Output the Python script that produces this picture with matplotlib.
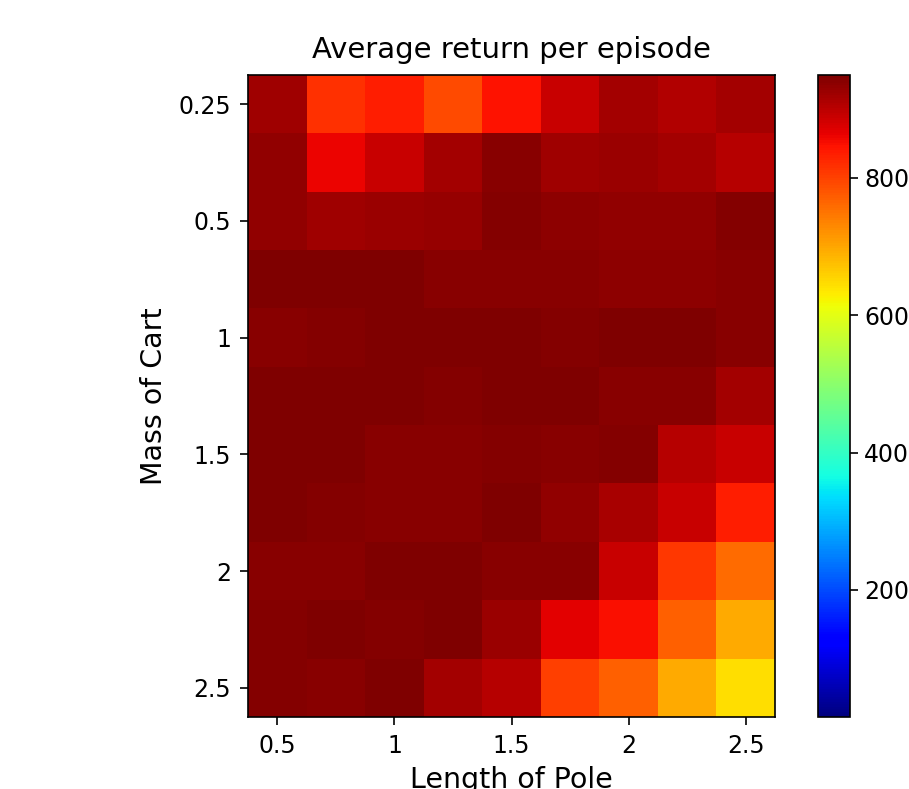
import numpy as np
import matplotlib
matplotlib.use("Agg")
import matplotlib.pyplot as plt

# lengths of pole (columns) and masses of cart (rows)
pole_lengths = [0.5, 0.75, 1.0, 1.25, 1.5, 1.75, 2.0, 2.25, 2.5]
cart_masses = [0.25, 0.375, 0.5, 0.75, 1.0, 1.25, 1.5, 1.75, 2.0, 2.25, 2.5]

x_tick_labels = ["0.5", "1", "1.5", "2", "2.5"]
y_tick_labels = ["0.25", "0.5", "1", "1.5", "2", "2.5"]

# average return per episode, one row per cart mass
row_025 = [922, 815, 834, 790, 846, 888, 919, 909, 920]
row_0375 = [933, 861, 888, 919, 940, 924, 927, 920, 905]
row_05 = [933, 921, 925, 930, 943, 938, 935, 935, 945]
row_075 = [947, 950, 950, 940, 940, 941, 938, 938, 941]
row_10 = [941, 945, 950, 950, 950, 943, 950, 950, 941]
row_125 = [950, 950, 950, 944, 948, 948, 941, 941, 919]
row_15 = [950, 950, 941, 941, 943, 941, 943, 905, 888]
row_175 = [950, 943, 940, 941, 950, 933, 917, 888, 834]
row_20 = [941, 941, 950, 950, 941, 941, 888, 810, 757]
row_225 = [945, 950, 943, 950, 927, 868, 850, 771, 697]
row_25 = [945, 941, 947, 919, 905, 803, 771, 697, 644]

returns = np.array([row_025, row_0375, row_05, row_075, row_10, row_125,
                    row_15, row_175, row_20, row_225, row_25])

fig = plt.figure(figsize=(9.09, 7.89), dpi=100)
ax = fig.add_axes([248 / 909, 1 - 717 / 789, 527 / 909, 642 / 789])
cax = fig.add_axes([818 / 909, 1 - 717 / 789, 32 / 909, 642 / 789])

im = ax.imshow(returns, cmap="jet", vmin=15, vmax=950,
               interpolation="nearest", aspect="auto")

ax.set_xticks(range(0, len(pole_lengths), 2))
ax.set_xticklabels(x_tick_labels)
ax.set_yticks(range(0, len(cart_masses), 2))
ax.set_yticklabels(y_tick_labels)
ax.tick_params(labelsize=17, length=6, width=1.2, pad=6)

ax.set_title("Average return per episode", fontsize=21, pad=12)
ax.set_xlabel("Length of Pole", fontsize=20.5, labelpad=6)
ax.set_ylabel("Mass of Cart", fontsize=20.5, labelpad=8)
for s in ax.spines.values():
    s.set_linewidth(1.2)

cb = fig.colorbar(im, cax=cax, ticks=[200, 400, 600, 800])
cb.ax.tick_params(labelsize=17, length=6, width=1.2, pad=4)
cb.outline.set_linewidth(1.2)

fig.savefig("out.png", dpi=100)
